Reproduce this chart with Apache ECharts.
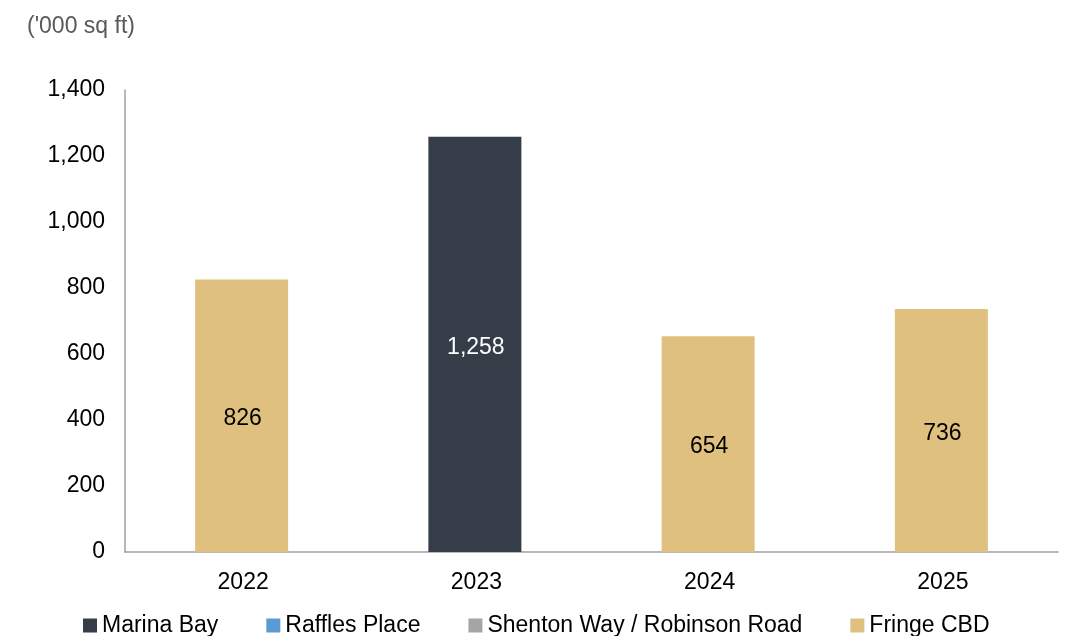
<!DOCTYPE html>
<html>
<head>
<meta charset="utf-8">
<script src="https://cdn.jsdelivr.net/npm/echarts@6/dist/echarts.min.js"></script>
<style>html,body{margin:0;padding:0;background:#fff}#c{width:1074px;height:636px}</style>
</head>
<body>
<div id="c"></div>
<script>
var categories = ['2022', '2023', '2024', '2025'];
var marinaBay = [null, 1258, null, null];
var rafflesPlace = [null, null, null, null];
var shentonWay = [null, null, null, null];
var fringeCBD = [826, null, 654, 736];
var yTicks = { min: 0, max: 1400, interval: 200 };
var unitLabel = "('000 sq ft)";

var FONT = 'Liberation Sans, Arial, sans-serif';
var chart = echarts.init(document.getElementById('c'));
function fmt(v) { return Number(v).toLocaleString('en-US'); }
function mkSeries(name, data, color, labelColor) {
  return {
    name: name, type: 'bar', stack: 'total', data: data, barWidth: 93,
    itemStyle: { color: color },
    label: {
      show: true, position: 'inside', color: labelColor, offset: [1, 3],
      fontFamily: FONT, fontSize: 23,
      formatter: function (p) { return p.value == null ? '' : fmt(p.value); }
    }
  };
}
chart.setOption({
  animation: false,
  textStyle: { fontFamily: FONT },
  title: {
    text: unitLabel, left: 22, top: 10,
    textStyle: { color: '#595959', fontSize: 23, fontWeight: 'normal', fontFamily: FONT }
  },
  legend: {
    left: 83, top: 614, padding: 0, itemWidth: 14, itemHeight: 14, itemGap: 48,
    icon: 'rect',
    textStyle: { fontSize: 23, color: '#000', fontFamily: FONT, padding: [0, 0, 0, 0] },
    data: ['Marina Bay', 'Raffles Place', 'Shenton Way / Robinson Road', 'Fringe CBD']
  },
  grid: { left: 125, right: 16, top: 90, bottom: 84, containLabel: false },
  xAxis: {
    type: 'category', data: categories,
    axisLine: { lineStyle: { color: '#a0a0a0', width: 1.5 } },
    axisTick: { show: false },
    axisLabel: { color: '#000', fontSize: 23, margin: 19, fontFamily: FONT, padding: [0, 0, 0, 3] }
  },
  yAxis: {
    type: 'value', min: yTicks.min, max: yTicks.max, interval: yTicks.interval,
    axisLine: { show: true, lineStyle: { color: '#a0a0a0', width: 1.5 } },
    axisTick: { show: false },
    splitLine: { show: false },
    axisLabel: { color: '#000', fontSize: 23, margin: 20, fontFamily: FONT, padding: [4, 0, 0, 0], formatter: function (v) { return fmt(v); } }
  },
  series: [
    mkSeries('Marina Bay', marinaBay, '#343d48', '#ffffff'),
    mkSeries('Raffles Place', rafflesPlace, '#5b9bd5', '#000'),
    mkSeries('Shenton Way / Robinson Road', shentonWay, '#a5a5a5', '#000'),
    mkSeries('Fringe CBD', fringeCBD, '#e0c07e', '#000')
  ]
});
</script>
</body>
</html>
